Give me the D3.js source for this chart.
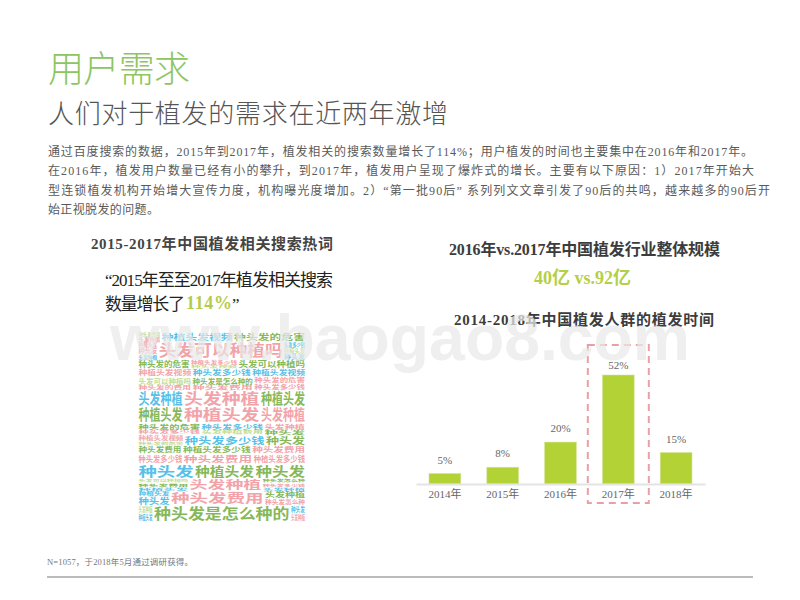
<!DOCTYPE html>
<html><head><meta charset="utf-8">
<script src="https://cdn.jsdelivr.net/npm/d3@7"></script>
<style>
html,body{margin:0;padding:0;background:#fff}
svg{display:block}
text{font-family:"Liberation Serif","Noto Sans CJK SC",serif}
.cloud text{font-family:"Liberation Sans","Noto Sans CJK SC",sans-serif;font-weight:700}
</style></head><body><div id="c"></div>
<script>
const years = ["2014年","2015年","2016年","2017年","2018年"];
const shares = [5,8,20,52,15];
const highlightYear = "2017年";
const bodyLines = [
 "通过百度搜索的数据，2015年到2017年，植发相关的搜索数量增长了114%；用户植发的时间也主要集中在2016年和2017年。",
 "在2016年，植发用户数量已经有小的攀升，到2017年，植发用户呈现了爆炸式的增长。主要有以下原因：1）2017年开始大",
 "型连锁植发机构开始增大宣传力度，机构曝光度增加。2）“第一批90后” 系列列文文章引发了90后的共鸣，越来越多的90后开",
 "始正视脱发的问题。"];
const bodyWidths = [705,706,722,111];
const P="#f2a3aa",G="#a8cb5c",B="#58bfe8",D="#86b85a",L="#c2dc92";
// word cloud rows: each row has cells, each cell stacks [phrase, weight, colour]
const cloudRows = [
 [[["种头发费用",5,L],["头发种植",5,P]],[["种植头发视频",13,B]],[["种头发的危害",13,D]]],
 [[["种植头发",6,P],["种头发",9,P],["头发种植",6,B]],[["头发可以种植吗",24,P]],[["头发多少钱",6,B],["种植头发",6,L],["种头发",6,B]]],
 [[["种头发的危害",9,D]],[["种植头发多少钱",7,P],["种头发视频",5,L]],[["头发可以种植吗",10,D]]],
 [[["种植头发视频",10,P]],[["种头发多少钱",11,B]],[["种植头发视频",10,B]]],
 [[["头发可以种植吗",8,L],["种头发的费用",5,P]],[["种头发是怎么种的",8,D],["种头发费用",5,P]],[["种头发的危害",9,P],["种头发多少钱",9,P]]],
 [[["头发种植",13,B],["种植头发",13,D]],[["头发种植",22,P],["种植头发",22,P]],[["种植头发",13,D],["头发种植",13,P]]],
 [[["种头发的危害",9,D],["种头发多少钱",6,P]],[["种头发多少钱",9,B],["头发种植费用",6,L]],[["头发种植",9,P],["种头发",7,D]]],
 [[["种植头发视频",8,P],["种头发的危害",6,L]],[["种头发多少钱",14,B]],[["种头发",14,D]]],
 [[["种头发费用",9,D]],[["种植头发多少钱",10,D]],[["种头发费用",11,P]]],
 [[["种头发多少钱",7,P]],[["种头发费用",13,P]],[["种植头发多少钱",7,P]]],
 [[["种头发",20,B]],[["种植头发",16,D]],[["种头发",18,D]]],
 [[["头发可以种植吗",6,L],["种头发费用",6,D],["种植头发",5,B]],[["头发种植",15,P]],[["种头发怎么种",6,D],["种头发多少钱",6,P],["头发种植",5,B]]],
 [[["种植头发",6,B],["种头发",11,B]],[["种头发费用",19,P]],[["头发种植",8,D],["种头发怎么种",7,P]]],
 [[["头发种植",5,L],["种植头发",5,B]],[["种头发是怎么种的",22,D]],[["种头发",5,B],["头发种植",5,P]]]
];

const svg=d3.select("#c").append("svg").attr("width",800).attr("height",600);
const txt=(s,x,y,size,fill,o={})=>{
  const t=svg.append("text").attr("x",x).attr("y",y).attr("font-size",size).attr("fill",fill).text(s);
  if(o.bold)t.attr("font-weight",700);
  if(o.w)t.attr("textLength",o.w).attr("lengthAdjust","spacing");
  return t;
};
// Titles
txt("用户需求",48,82,36,"#8cc561",{w:142}).attr("font-weight",300);
txt("人们对于植发的需求在近两年激增",48,123,26,"#555",{w:400}).attr("font-weight",300);
bodyLines.forEach((l,i)=>txt(l,48,[156,175,195,214][i],12,"#5a5a5a",{w:bodyWidths[i]}));

// Sub headings
txt("2015-2017年中国植发相关搜索热词",91,249,15,"#444",{bold:1,w:242});
txt("“2015年至至2017年植发相关搜索",105,286,17,"#222",{w:228});
txt("数量增长了",105,310,17,"#222",{w:80});
txt("114%",186,309,18,"#b5cc4a",{bold:1,w:46});
txt("”",232,310,17,"#222");
txt("2016年vs.2017年中国植发行业整体规模",449,255,16,"#3c3c3c",{bold:1,w:271});
txt("40亿 vs.92亿",534,284,18,"#b5cf48",{bold:1,w:97});
txt("2014-2018年中国植发人群的植发时间",454,325,15,"#3c3c3c",{bold:1,w:260});

// Word cloud
const cw=168,ch=190,cx0=138,cy0=332;
const cellH=c=>d3.sum(c,d=>d[1]*1.12);
const cellW=c=>d3.max(c,d=>d[0].length*d[1]);
const rowH=r=>d3.max(r,cellH);
const totalH=d3.sum(cloudRows,rowH);
const k=ch/totalH;
const yS=d3.scaleLinear().domain([0,totalH]).range([cy0,cy0+ch]);
const cloud=svg.append("g").attr("class","cloud");
let acc=0;
cloudRows.forEach(r=>{
  const h=rowH(r), tot=d3.sum(r,cellW);
  const xS=d3.scaleLinear().domain([0,tot]).range([cx0,cx0+cw]);
  let ax=0;
  r.forEach(c=>{
    const w=cellW(c), f=h/cellH(c);
    let ay=acc;
    c.forEach(d=>{
      const lh=d[1]*1.12*f;
      const fs=lh*k*0.87;
      cloud.append("text").attr("x",xS(ax)+.5).attr("y",yS(ay+lh)-fs*0.22)
        .attr("font-size",fs).attr("fill",d[2])
        .attr("textLength",Math.max(1,xS(ax+w)-xS(ax)-1.5)).attr("lengthAdjust","spacingAndGlyphs").text(d[0]);
      ay+=lh;
    });
    ax+=w;
  });
  acc+=h;
});

// Bars
const x=d3.scaleBand().domain(years).range([416,705]).paddingInner(0.45).paddingOuter(0.225);
const y=d3.scaleLinear().domain([0,52]).range([484,375]);
const labelGap=[10,10,10,6,10];
const plot=svg.append("g");
plot.selectAll("rect").data(shares).join("rect")
  .attr("x",(d,i)=>x(years[i])).attr("y",d=>y(d)).attr("width",x.bandwidth()).attr("height",d=>y(0)-y(d))
  .attr("fill","#b2d235").attr("stroke","#d5e59a").attr("stroke-width",0.6);
plot.selectAll(".v").data(shares).join("text").attr("class","v")
  .attr("x",(d,i)=>x(years[i])+x.bandwidth()/2).attr("y",(d,i)=>y(d)-labelGap[i])
  .attr("text-anchor","middle").attr("font-size",11).attr("fill","#666").text(d=>d+"%");
const ax=svg.append("g").attr("transform","translate(0,484)").call(d3.axisBottom(x).tickSize(0).tickPadding(6));
ax.select(".domain").attr("stroke","#e4e4e4").attr("stroke-width",2);
ax.selectAll("text").attr("font-size",11).attr("fill","#666").attr("font-family",'"Liberation Serif","Noto Sans CJK SC",serif');
// Highlight box around the peak year
const hx=x(highlightYear)+x.bandwidth()/2;
svg.append("rect").attr("x",hx-30.5).attr("y",345).attr("width",61).attr("height",158)
  .attr("fill","none").attr("stroke","#e8a0a6").attr("stroke-width",2).attr("stroke-dasharray","7 5");

// Footer
txt("N=1057，于2018年5月通过调研获得。",47,565,8.5,"#777",{w:146});
svg.append("line").attr("x1",47).attr("x2",753).attr("y1",577).attr("y2",577).attr("stroke","#bbb").attr("stroke-width",2);

// Watermark
svg.append("text").attr("x",110).attr("y",360)
  .attr("font-size",64).attr("font-weight",700).attr("textLength",580).attr("lengthAdjust","spacingAndGlyphs")
  .attr("fill","#e9e9e9").attr("fill-opacity",0.72)
  .style("font-family","'Liberation Sans',sans-serif").text("www.baogao8.com");
</script></body></html>
